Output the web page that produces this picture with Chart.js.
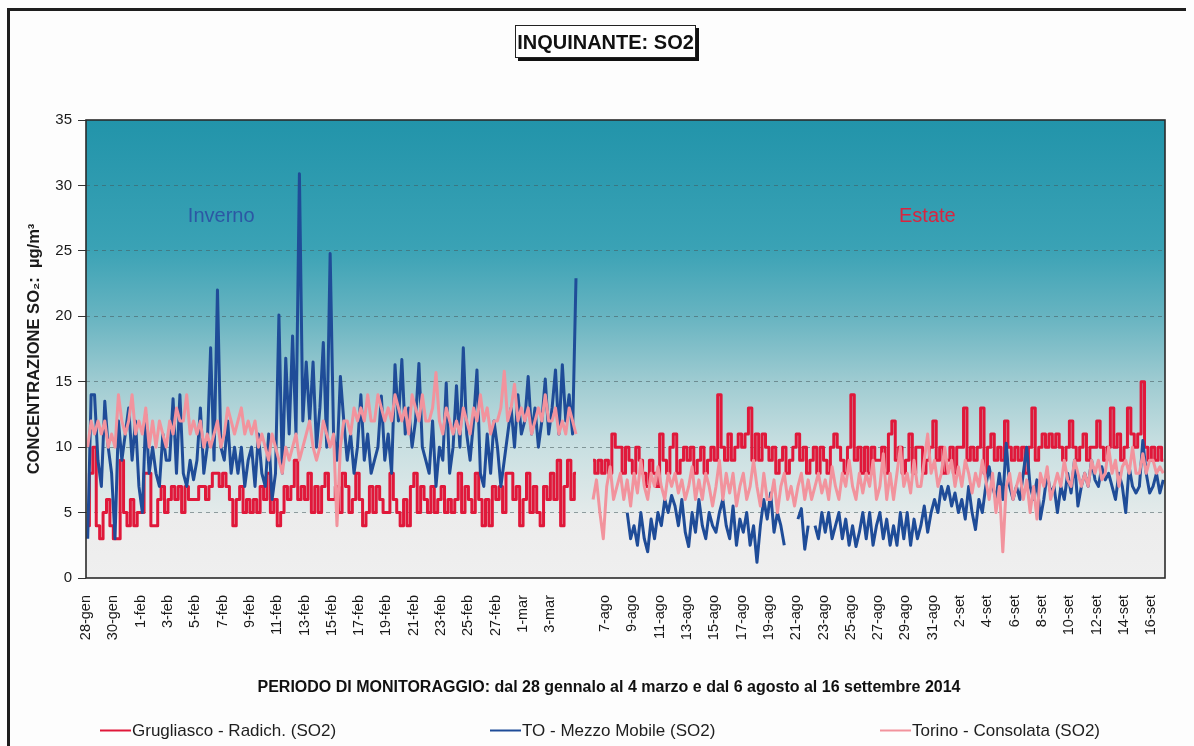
<!DOCTYPE html>
<html>
<head>
<meta charset="utf-8">
<title>Inquinante SO2</title>
<script src="https://cdn.jsdelivr.net/npm/chart.js@4.4.1/dist/chart.umd.min.js"></script>
<style>
  html, body { margin: 0; padding: 0; background: #fdfdfd; }
  canvas { display: block; }
</style>
</head>
<body>
<canvas id="chart" width="1194" height="746"></canvas>
<script>
// Texts
const CHART_TITLE = 'INQUINANTE: SO2';
const X_TITLE = 'PERIODO DI MONITORAGGIO: dal 28 gennalo al 4 marzo e dal 6 agosto al 16 settembre 2014';
const Y_TITLE = 'CONCENTRAZIONE SO\u2082:  \u00b5g/m\u00b3';
const WINTER_NOTE = 'Inverno';
const SUMMER_NOTE = 'Estate';
const SERIES_NAMES = ['Grugliasco - Radich. (SO2)', 'TO - Mezzo Mobile (SO2)', 'Torino - Consolata (SO2)'];

// Tick labels (one per day, a blank day between the two campaigns)
const WINTER_DAYS = ['28-gen', '29-gen', '30-gen', '31-gen',
    '1-feb', '2-feb', '3-feb', '4-feb', '5-feb', '6-feb', '7-feb', '8-feb', '9-feb', '10-feb',
    '11-feb', '12-feb', '13-feb', '14-feb', '15-feb', '16-feb', '17-feb', '18-feb', '19-feb', '20-feb',
    '21-feb', '22-feb', '23-feb', '24-feb', '25-feb', '26-feb', '27-feb', '28-feb',
    '1-mar', '2-mar', '3-mar', '4-mar'];
const SUMMER_DAYS = ['6-ago', '7-ago', '8-ago', '9-ago', '10-ago', '11-ago', '12-ago', '13-ago', '14-ago',
    '15-ago', '16-ago', '17-ago', '18-ago', '19-ago', '20-ago', '21-ago', '22-ago', '23-ago', '24-ago',
    '25-ago', '26-ago', '27-ago', '28-ago', '29-ago', '30-ago', '31-ago',
    '1-set', '2-set', '3-set', '4-set', '5-set', '6-set', '7-set', '8-set', '9-set', '10-set',
    '11-set', '12-set', '13-set', '14-set', '15-set', '16-set'];
const DAY_LABELS = [...WINTER_DAYS, '', ...SUMMER_DAYS];
const Y_TICKS = [0, 5, 10, 15, 20, 25, 30, 35];

// Values, read every 6 hours (4 per day)
const SAMPLES_PER_DAY = 4;

// Grugliasco - Radich.
const GRUG_WINTER = [
    4, 8, 10, 4, 3, 5, 6, 4,
    3, 3, 9, 5, 4, 6, 4, 5,
    5, 8, 8, 4, 4, 6, 7, 5,
    6, 7, 6, 7, 5, 7, 6, 6,
    6, 7, 7, 6, 7, 8, 8, 7,
    8, 7, 6, 4, 6, 7, 5, 6,
    5, 6, 5, 7, 6, 8, 5, 6,
    4, 5, 7, 6, 7, 9, 6, 7,
    6, 8, 5, 7, 5, 7, 8, 6,
    6, 7, 5, 8, 7, 5, 6, 8,
    6, 4, 5, 7, 5, 7, 6, 5,
    5, 8, 6, 5, 4, 6, 4, 7,
    8, 5, 7, 6, 5, 7, 5, 6,
    7, 5, 6, 5, 6, 8, 5, 7,
    6, 5, 8, 6, 4, 6, 4, 7,
    6, 7, 5, 8, 8, 6, 7, 4,
    6, 8, 5, 7, 5, 4, 7, 6,
    8, 6, 9, 4, 7, 9, 6, 8
];
const GRUG_SUMMER = [
    9, 8, 9, 8, 9, 8, 11, 10,
    10, 8, 10, 9, 8, 10, 9, 8,
    7, 9, 8, 7, 11, 9, 8, 10,
    11, 8, 9, 10, 9, 10, 8, 9,
    10, 8, 9, 10, 9, 14, 10, 9,
    11, 9, 10, 11, 10, 11, 13, 9,
    11, 9, 11, 10, 9, 10, 8, 9,
    10, 8, 9, 10, 11, 9, 10, 8,
    9, 10, 8, 10, 9, 8, 10, 11,
    10, 9, 8, 10, 14, 9, 10, 8,
    10, 8, 10, 9, 9, 10, 8, 11,
    12, 9, 10, 8, 9, 11, 8, 10,
    10, 8, 9, 10, 12, 9, 10, 8,
    9, 10, 8, 10, 10, 13, 9, 10,
    9, 10, 13, 8, 10, 11, 9, 10,
    9, 12, 10, 9, 10, 9, 10, 8,
    10, 13, 9, 10, 11, 10, 11, 10,
    11, 10, 9, 10, 12, 10, 9, 10,
    11, 9, 10, 10, 12, 10, 9, 10,
    13, 10, 11, 9, 10, 13, 11, 10,
    11, 15, 10, 9, 10, 9, 10, 9
];

// TO - Mezzo Mobile
const MOBILE_WINTER = [
    3, 14, 14, 9, 7, 13.5, 10, 8,
    3, 12, 9, 11, 13, 9, 12, 7,
    5, 12.5, 8, 10, 8, 7, 11, 9,
    9, 13.7, 8, 14, 8, 7, 9, 7.5,
    9, 13, 8, 10, 17.6, 9, 22, 10,
    9, 12, 8, 10, 8, 10, 7, 9,
    10, 7, 11, 8, 7, 11, 6, 8,
    20.1, 8, 16.8, 11, 18.5, 11, 30.9, 12,
    16.5, 12, 16.5, 10, 13, 18, 10, 24.8,
    11, 9, 15.4, 12, 9, 11, 8, 10,
    14, 9, 11, 8, 9, 10, 13.9, 9,
    11, 8, 16.3, 12, 16.7, 11, 13, 10,
    12, 16.4, 10, 9, 8, 12, 7, 10,
    9, 14.9, 8, 10, 14.7, 10, 17.6, 11,
    9, 12, 15.9, 8, 7, 11, 8, 12,
    10, 7, 9, 11, 13, 10, 14, 11,
    12, 15.4, 11, 13, 10, 12, 15.2, 11,
    13, 15.9, 11, 16.3, 12, 14, 11, 22.9
];
const MOBILE_SUMMER = [
    null, null, null, null, null, null, null, null,
    null, null, 5, 3, 4, 2.5, 5, 3,
    2, 4.5, 3, 5, 4, 6, 5, 6.3,
    5.5, 4, 6, 3.5, 2.4, 5, 3.5, 6,
    4, 3, 5, 4, 3.5, 5, 6, 4,
    3, 5.5, 2.5, 4.5, 3.5, 5, 2.5, 4,
    1.2, 4, 6, 4.5, 6.5, 3.5, 5, 4,
    2.5, null, null, null, 4.5, 5.3, 2.2, 4,
    null, 4, 3, 5, 3.5, 5, 3, 4,
    5, 3, 4.5, 2.5, 4, 2.4, 3.5, 5,
    3, 5, 2.5, 4, 5, 3, 4.5, 2.5,
    4, 2.5, 5, 3, 5, 2.5, 4.5, 3,
    4, 5.5, 3.5, 5, 6, 5, 7, 6,
    7, 5.5, 6.5, 5, 6, 4.5, 7, 5,
    3.7, 6, 5, 7, 8.5, 7, 6, 8,
    6, 10.3, 7, 6, 7, 6, 8, 10,
    7, 6, 7.5, 4.5, 6, 8, 6.5, 7,
    5, 7, 6, 8, 6.5, 9, 5.5, 7,
    8, 7, 9, 7.5, 7, 8.5, 7.5, 8,
    7, 6, 8, 7, 5, 8.5, 7, 6.5,
    7, 10.5, 8, 6.5, 7, 8, 6.5, 7.5
];

// Torino - Consolata
const CONSOLATA_WINTER = [
    10, 12, 11, 12, 11, 12, 10, 11,
    10, 14, 12, 11, 12, 14, 11, 12,
    11, 13, 10, 12, 10, 12, 11, 10,
    12, 11, 13, 12, 12, 14, 11, 12,
    11, 12, 10, 11, 10, 11, 12, 10,
    11, 13, 12, 11, 12, 13, 11, 12,
    11, 12, 10, 11, 10, 9, 11, 10,
    9, 8, 10, 9, 10, 11, 9, 10,
    11, 12, 10, 9, 10, 12, 11, 10,
    11, 4, 10, 12, 12, 11, 13, 12,
    13, 12, 14, 12, 12, 14, 13, 12,
    13, 12, 14, 13, 12, 13, 11, 14,
    13, 12, 14, 12, 12, 13, 15.7, 12,
    11, 13, 12, 11, 12, 11, 13, 12,
    11, 13, 12, 14, 12, 13, 11, 12,
    12, 13, 15.8, 12, 13, 14.8, 12, 13,
    12, 13, 11, 12, 13, 12, 14, 12,
    12, 13, 11, 12, 11, 13, 12, 11
];
const CONSOLATA_SUMMER = [
    6, 7.5, 5, 3, 7, 8.5, 6, 7,
    8, 6, 7.5, 5.5, 8, 6.5, 9, 7,
    6, 8, 7, 8.5, 7, 6, 8, 7,
    8, 6.5, 7.5, 6, 7, 8.5, 6, 7.5,
    6, 8, 7, 5.5, 7, 9, 6, 8,
    6.5, 8, 5.5, 7, 8, 6, 7, 9,
    7, 5.5, 8, 6, 6, 7.5, 5, 7,
    8, 6, 7, 5.5, 7, 8, 6, 7.5,
    6, 7, 8, 6.5, 7.5, 6, 8.5, 7,
    6, 8, 7, 9, 7, 6, 8, 6.5,
    8, 7, 9, 6, 7, 9.5, 6, 8,
    6, 8, 10, 7, 8, 6.5, 9, 7,
    7, 9, 11, 8, 9, 7, 8, 10,
    8, 9, 7, 8.5, 7, 9, 8, 6.5,
    8, 7, 9, 7.5, 6, 8, 5, 7,
    2, 7, 8, 6, 7, 8, 6, 7.5,
    5, 7, 4.5, 8, 7, 8.5, 6, 7,
    8, 7, 9, 7.5, 7, 9, 8, 7,
    8, 7, 9, 8, 9, 7.5, 8, 10,
    8, 9, 7, 8.5, 9, 8, 10, 8,
    8, 9.5, 8, 9, 9, 8, 8.5, 8
];

// Colors
const RED = '#e0183a';
const BLUE = '#1f4c98';
const PINK = '#f2939d';
const TEXT_COLOR = '#1e1e1e';
const FRAME_COLOR = '#1e1e1e';
const GRID_COLOR = 'rgba(70, 90, 92, 0.55)';

// Fonts
const FONT_FAMILY = "'Liberation Sans', Arial, Helvetica, sans-serif";

// Day index -> x value; the summer campaign starts after the blank day
const SUMMER_OFFSET = WINTER_DAYS.length + 1;

function toPoints(winter, summer) {
    const points = winter.map((v, i) => ({ x: (i + 0.5) / SAMPLES_PER_DAY, y: v }));
    points.push({ x: WINTER_DAYS.length + 0.5, y: null });
    summer.forEach((v, i) => points.push({ x: SUMMER_OFFSET + (i + 0.5) / SAMPLES_PER_DAY, y: v }));
    return points;
}

const paper = {
    id: 'paper',
    beforeDraw(chart) {
        const { ctx, chartArea: a } = chart;
        ctx.save();
        ctx.fillStyle = '#fdfdfd';
        ctx.fillRect(0, 0, chart.width, chart.height);

        ctx.strokeStyle = FRAME_COLOR;
        ctx.lineWidth = 3;
        ctx.beginPath();
        ctx.moveTo(8.5, chart.height);
        ctx.lineTo(8.5, 9.5);
        ctx.lineTo(1186, 9.5);
        ctx.stroke();

        const g = ctx.createLinearGradient(0, a.top, 0, a.bottom);
        g.addColorStop(0, '#2294aa');
        g.addColorStop(0.28, '#3aa2b5');
        g.addColorStop(0.43, '#68b4c1');
        g.addColorStop(0.57, '#9ecbd1');
        g.addColorStop(0.71, '#c8dfe1');
        g.addColorStop(0.855, '#e3eaea');
        g.addColorStop(0.86, '#ececec');
        g.addColorStop(1, '#efefef');
        ctx.fillStyle = g;
        ctx.fillRect(a.left, a.top, a.right - a.left, a.bottom - a.top);
        ctx.restore();
    },
    afterDatasetsDraw(chart) {
        const { ctx, chartArea: a } = chart;
        ctx.save();
        ctx.strokeStyle = '#2b2b2b';
        ctx.lineWidth = 1.6;
        ctx.strokeRect(a.left, a.top, a.right - a.left, a.bottom - a.top);
        ctx.restore();
    },
    afterDraw(chart) {
        const { ctx } = chart;
        const x = chart.scales.x, y = chart.scales.y;
        ctx.save();

        // title box with drop shadow
        ctx.fillStyle = '#111';
        ctx.fillRect(518, 28, 181, 33);
        ctx.fillStyle = '#fff';
        ctx.fillRect(515, 25, 181, 33);
        ctx.strokeStyle = '#222';
        ctx.lineWidth = 1;
        ctx.strokeRect(515.5, 25.5, 180, 32);
        ctx.fillStyle = '#111';
        ctx.font = `bold 20px ${FONT_FAMILY}`;
        ctx.textAlign = 'center';
        ctx.textBaseline = 'middle';
        ctx.fillText(CHART_TITLE, 605.5, 43);

        // season notes
        ctx.font = `20px ${FONT_FAMILY}`;
        ctx.fillStyle = '#2c57a4';
        ctx.fillText(WINTER_NOTE, x.getPixelForValue(9.9), y.getPixelForValue(27.6));
        ctx.fillStyle = '#d9243f';
        ctx.fillText(SUMMER_NOTE, x.getPixelForValue(61.6), y.getPixelForValue(27.6));

        // x axis title
        ctx.fillStyle = '#111';
        ctx.font = `bold 16px ${FONT_FAMILY}`;
        ctx.fillText(X_TITLE, 609, 688);

        // legend
        ctx.font = `17px ${FONT_FAMILY}`;
        ctx.textAlign = 'left';
        chart.data.datasets.forEach((ds, i) => {
            const lx = 100 + i * 390;
            ctx.strokeStyle = ds.borderColor;
            ctx.lineWidth = 2;
            ctx.beginPath();
            ctx.moveTo(lx, 730.5);
            ctx.lineTo(lx + 31, 730.5);
            ctx.stroke();
            ctx.fillStyle = TEXT_COLOR;
            ctx.fillText(ds.label, lx + 32, 731);
        });
        ctx.restore();
    }
};

const lineStyle = {
    pointRadius: 0,
    pointHoverRadius: 0,
    borderWidth: 3,
    tension: 0,
    spanGaps: false,
    borderJoinStyle: 'round'
};

Chart.defaults.font.family = FONT_FAMILY;
Chart.defaults.color = TEXT_COLOR;

const data = {
    datasets: [{
        ...lineStyle,
        label: SERIES_NAMES[0],
        data: toPoints(GRUG_WINTER, GRUG_SUMMER),
        borderColor: RED,
        stepped: 'middle',
        order: 3
    }, {
        ...lineStyle,
        label: SERIES_NAMES[1],
        data: toPoints(MOBILE_WINTER, MOBILE_SUMMER),
        borderColor: BLUE,
        order: 2
    }, {
        ...lineStyle,
        label: SERIES_NAMES[2],
        data: toPoints(CONSOLATA_WINTER, CONSOLATA_SUMMER),
        borderColor: PINK,
        order: 1
    }]
};

const options = {
    responsive: false,
    animation: false,
    events: [],
    layout: { padding: { left: 18, right: 29, top: 120, bottom: 0 } },
    scales: {
        x: {
            type: 'linear',
            min: 0,
            max: DAY_LABELS.length,
            grid: { display: false },
            border: { display: false },
            ticks: {
                stepSize: 2,
                includeBounds: false,
                autoSkip: false,
                minRotation: 90,
                maxRotation: 90,
                padding: 9,
                color: '#1a1a1a',
                font: { size: 14.5 },
                callback: (v) => (Number.isInteger(v) && v % 2 === 0) ? (DAY_LABELS[v] || '') : ''
            },
            afterFit: (scale) => { scale.height = 168; }
        },
        y: {
            min: Y_TICKS[0],
            max: Y_TICKS[Y_TICKS.length - 1],
            grid: {
                color: (c) => (c.tick && (c.tick.value === Y_TICKS[0] || c.tick.value === Y_TICKS[Y_TICKS.length - 1])) ? 'rgba(0,0,0,0)' : GRID_COLOR,
                lineWidth: 1,
                tickColor: '#333',
                tickLength: 8,
                tickBorderDash: []
            },
            border: { display: false, dash: [4, 4] },
            ticks: {
                stepSize: Y_TICKS[1] - Y_TICKS[0],
                padding: 6,
                color: '#1a1a1a',
                font: { size: 15 }
            },
            title: {
                display: true,
                text: Y_TITLE,
                color: '#1a1a1a',
                font: { size: 16.5, weight: 'bold' },
                padding: { top: 7, bottom: 0 }
            },
            afterFit: (scale) => { scale.width = 68; }
        }
    },
    plugins: {
        legend: { display: false },
        title: { display: false },
        tooltip: { enabled: false }
    }
};

new Chart(document.getElementById('chart'), {
    type: 'line',
    data: data,
    options: options,
    plugins: [paper]
});
</script>
</body>
</html>
